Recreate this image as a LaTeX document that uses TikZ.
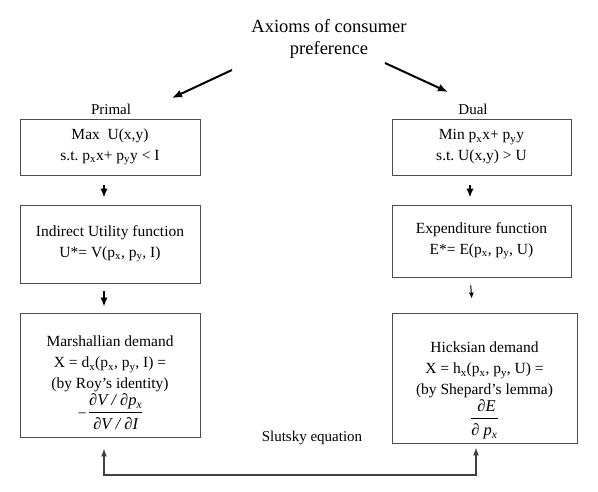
\documentclass[tikz,border=0pt]{standalone}
\usepackage{fontspec}
\setmainfont{Liberation Serif}
\usetikzlibrary{arrows.meta}
\usetikzlibrary{positioning}
\tikzset{box/.style = {draw=black!70, line width=0.9pt, minimum width=180, minimum height=56,
                       align=center, inner sep=0, font=\fontsize{15.5}{21}\selectfont}}
\tikzset{arr/.style = {-{Latex[length=9pt, width=7.5pt]}, line width=2pt}}
\tikzset{lbl/.style = {font=\fontsize{15}{19}\selectfont}}
\newcommand{\partfrac}[2]{{\fontsize{16.5}{18}\selectfont\itshape
  \begin{tabular}{@{}c@{}}#1\\[1pt]\hline\rule{0pt}{17pt}#2\end{tabular}}}

\begin{document}
\begin{tikzpicture}[x=1pt, y=1pt]
          \useasboundingbox (0, 0) rectangle (598, -491);
          \node [align=center, font=\fontsize{18.5}{22}\selectfont] (axioms) at (329, -39)
            {Axioms of consumer\\ preference};
          \node [lbl] (primal) at (111, -109) {Primal};
          \node [lbl] (dual) at (473, -109) {Dual};

          % primal side
          \node [box] (maxu) at (110, -147)
            {Max\ \ U(x,y)\\ s.t.\ p\textsubscript{x}x+ p\textsubscript{y}y < I};
          \node [box, minimum height=78] (indirect) at (110, -244)
            {Indirect Utility function\\ U*= V(p\textsubscript{x}, p\textsubscript{y}, I)};
          \node [box, minimum height=124] (marsh) at (110, -375)
            {\rule{0pt}{32pt}Marshallian demand\\ X = d\textsubscript{x}(p\textsubscript{x}, p\textsubscript{y}, I) =\\
             (by Roy's identity)\\
             −\,\partfrac{∂V / ∂p\textsubscript{x}}{∂V / ∂I}};

          % dual side
          \node [box, minimum width=179] (minp) at (481.5, -147)
            {Min p\textsubscript{x}x+ p\textsubscript{y}y\\ s.t.\ U(x,y) > U};
          \node [box, minimum width=179, minimum height=72] (expend) at (481.5, -241)
            {Expenditure function\\ E*= E(p\textsubscript{x}, p\textsubscript{y}, U)};
          \node [box, minimum width=185, minimum height=130] (hicks) at (484.5, -378)
            {\rule{0pt}{38pt}Hicksian demand\\ X = h\textsubscript{x}(p\textsubscript{x}, p\textsubscript{y}, U) =\\
             (by Shepard's lemma)\\ \partfrac{\ ∂E\ }{∂ p\textsubscript{x}}};

          \node [lbl] (slutsky) at (312, -438) {Slutsky equation};

          % from the axioms to both problems
          \coordinate (axl) at (232, -70);
          \coordinate (prl) at (172, -98);
          \coordinate (axr) at (385, -63);
          \coordinate (dur) at (448, -92);
          \draw [arr, -{Latex[length=10pt, width=8pt]}] (axl) -- (prl);
          \draw [arr, -{Latex[length=10pt, width=8pt]}] (axr) -- (dur);

          \draw [arr, shorten <=10, shorten >=7] ([xshift=-6]maxu.south) -- ([xshift=-6]indirect.north);
          \draw [arr, shorten <=8, shorten >=6] ([xshift=-6]indirect.south) -- ([xshift=-6]marsh.north);
          \draw [arr, shorten <=10, shorten >=7] ([xshift=-11.5]minp.south) -- ([xshift=-11.5]expend.north);
          \draw [-{Latex[length=6pt, width=5pt]}, line width=1pt, shorten <=8, shorten >=14]
            ([xshift=-11.5]expend.south) -- ([xshift=-11.5]hicks.north);

          \coordinate (base) at (300, -475);
          \draw [{Latex[length=8pt, width=6pt]}-{Latex[length=8pt, width=6pt]}, line width=1.4pt,
                 draw=black!75, shorten <=11, shorten >=4]
            ([xshift=-6]marsh.south) |- (base) -| ([xshift=-8.5]hicks.south);
        \end{tikzpicture}
\end{document}
